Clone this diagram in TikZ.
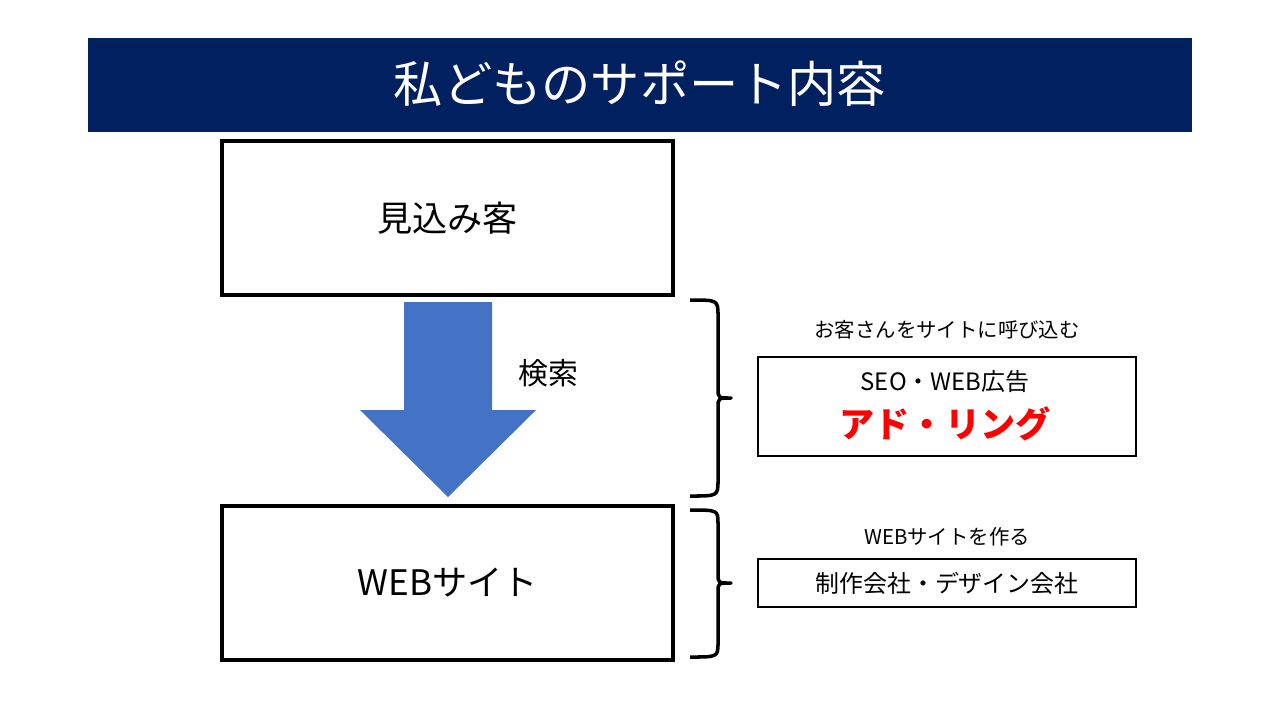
\documentclass[tikz,border=0pt]{standalone}
\usepackage{fontspec}
\setmainfont{Noto Sans CJK JP}
\usetikzlibrary{positioning}
\definecolor{navy}{HTML}{002060}
\definecolor{arrowblue}{HTML}{4472C4}
\tikzset{
 bigbox/.style={draw=black,line width=1pt,minimum width=4.51cm,minimum height=1.54cm,font=\fontsize{10}{12}\selectfont},
 smallbox/.style={draw=black,line width=0.4pt,minimum width=3.78cm,align=center},
 note/.style={font=\fontsize{5.8}{7}\selectfont},
 bracepath/.style={line width=1pt,line join=round}
}
\begin{document}
\begin{tikzpicture}[x=0.01cm,y=-0.01cm]
\useasboundingbox (0,0) rectangle (1280,720);
\fill[navy] (88,38) rectangle (1192,132);
\path (640,84) node[name=title,text=white,font=\fontsize{14}{16}\selectfont] {私どものサポート内容};

\path (447.5,218) node[name=prospect,bigbox] {見込み客};
\path (447.5,583) node[name=website,bigbox] {WEBサイト};

\fill[arrowblue] (404,302) -- (492,302) -- (492,410) -- (536,410) -- (448,497) -- (360,410) -- (404,410) -- cycle;
\path (548,373) node[name=search,font=\fontsize{8.5}{10}\selectfont] {検索};

\draw[bracepath] (690,300) .. controls (718,300) .. (718,316) -- (718,388) .. controls (718,398) .. (731,398) .. controls (718,398) .. (718,408) -- (718,480) .. controls (718,496) .. (690,496);
\draw[bracepath] (690,510) .. controls (718,510) .. (718,524) -- (718,574) .. controls (718,583) .. (731,583) .. controls (718,583) .. (718,592) -- (718,642) .. controls (718,657) .. (690,657);

\path (947,330) node[name=attract,note] {お客さんをサイトに呼び込む};
\path (947,406.5) node[name=adbox,smallbox,minimum height=0.99cm] {};
\path (945,381) node[name=seo,font=\fontsize{6.8}{8}\selectfont] {SEO・WEB広告};
\path (945,424) node[name=adring,text=red,font=\fontsize{10}{12}\selectfont\bfseries] {アド・リング};

\path (947,537) node[name=make,note] {WEBサイトを作る};
\path (947,583) node[name=maker,smallbox,minimum height=0.48cm,font=\fontsize{6.8}{8}\selectfont] {制作会社・デザイン会社};
\end{tikzpicture}
\end{document}
